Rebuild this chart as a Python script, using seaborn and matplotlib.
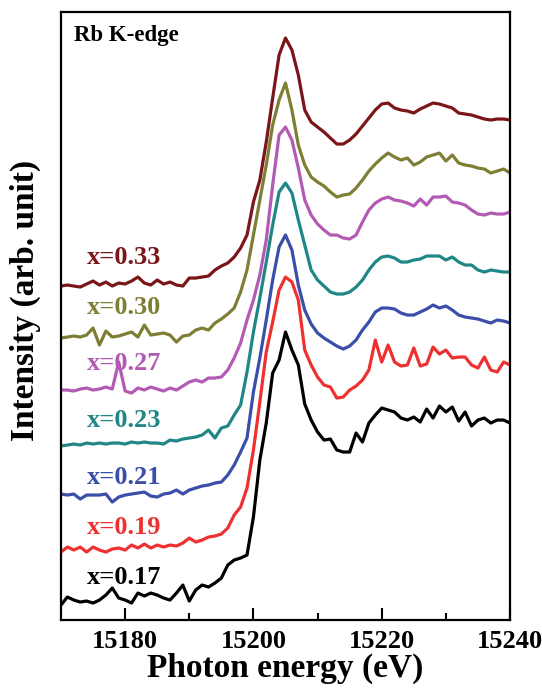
import numpy as np
import pandas as pd
import matplotlib
matplotlib.use("Agg")
import matplotlib.pyplot as plt
import seaborn as sns

# --- Data (stacked XANES spectra, arbitrary units) ---

energy = np.arange(15170, 15241)  # 1 eV grid

x017 = [15, 23, 20, 18, 19, 17, 20, 25, 32, 22,
        20, 17, 27, 24, 27, 25, 22, 20, 27, 35,
        19, 30, 35, 33, 37, 42, 55, 60, 62, 65,
        103, 160, 197, 247, 260, 288, 270, 255, 216, 200,
        188, 180, 181, 170, 168, 168, 187, 178, 197, 205,
        212, 210, 208, 202, 200, 203, 198, 211, 202, 214,
        208, 213, 199, 208, 194, 200, 202, 197, 200, 200,
        197]
x019 = [68, 73, 70, 73, 68, 73, 70, 68, 71, 72,
        70, 75, 72, 76, 72, 75, 73, 75, 74, 77,
        82, 78, 80, 83, 84, 86, 92, 105, 113, 132,
        170, 218, 268, 298, 330, 343, 338, 320, 270, 255,
        243, 235, 233, 222, 223, 230, 234, 240, 250, 280,
        258, 275, 258, 254, 255, 272, 254, 256, 273, 266,
        270, 262, 263, 263, 255, 252, 263, 250, 248, 258,
        255]
x021 = [126, 125, 126, 121, 125, 125, 125, 126, 118, 123,
        125, 126, 127, 128, 124, 123, 126, 127, 130, 126,
        130, 132, 134, 135, 137, 138, 145, 155, 168, 182,
        228, 262, 300, 340, 373, 385, 370, 335, 310, 296,
        287, 282, 278, 274, 271, 274, 280, 290, 298, 308,
        312, 312, 311, 307, 305, 305, 308, 311, 315, 312,
        314, 310, 305, 303, 302, 301, 299, 297, 300, 299,
        297]
x023 = [174, 175, 176, 175, 177, 176, 177, 176, 177, 177,
        176, 178, 177, 178, 177, 177, 176, 180, 179, 181,
        182, 183, 185, 190, 182, 192, 194, 205, 215, 248,
        288, 322, 358, 395, 428, 437, 427, 400, 375, 350,
        340, 334, 328, 326, 326, 328, 333, 340, 350, 358,
        363, 364, 362, 358, 358, 360, 361, 364, 364, 364,
        360, 363, 358, 355, 355, 350, 348, 350, 349, 348,
        348]
x027 = [230, 230, 229, 231, 232, 230, 231, 233, 231, 258,
        229, 227, 232, 230, 233, 231, 229, 232, 230, 234,
        238, 240, 238, 242, 242, 243, 250, 262, 277, 300,
        320, 345, 380, 435, 485, 493, 480, 452, 420, 405,
        396, 390, 385, 385, 382, 381, 385, 398, 410, 417,
        421, 423, 420, 419, 417, 414, 421, 415, 423, 423,
        424, 418, 417, 415, 410, 406, 405, 407, 406, 406,
        408]
x030 = [282, 283, 284, 283, 285, 292, 275, 289, 283, 284,
        286, 288, 283, 295, 285, 286, 287, 285, 278, 284,
        285, 290, 292, 290, 297, 301, 306, 312, 328, 350,
        385, 420, 455, 495, 520, 537, 510, 475, 455, 443,
        438, 434, 428, 423, 425, 426, 432, 440, 449, 456,
        462, 467, 463, 460, 462, 455, 458, 463, 465, 467,
        459, 465, 457, 455, 454, 452, 451, 447, 449, 451,
        447]
x033 = [334, 335, 334, 333, 336, 339, 335, 338, 334, 337,
        336, 339, 343, 337, 335, 340, 336, 338, 335, 334,
        342, 342, 343, 344, 350, 354, 357, 363, 372, 385,
        418, 440, 478, 522, 565, 582, 570, 545, 510, 498,
        493, 488, 482, 476, 476, 480, 486, 494, 502, 510,
        516, 517, 512, 510, 509, 507, 511, 514, 517, 516,
        514, 512, 507, 506, 505, 503, 501, 500, 501, 501,
        500]

samples = ["x=0.17", "x=0.19", "x=0.21", "x=0.23", "x=0.27", "x=0.30", "x=0.33"]
spectra = [x017, x019, x021, x023, x027, x030, x033]
colors = ["#000000", "#EE3130", "#3B4EA9", "#1F8786", "#B35BB4", "#7E7E34", "#7A1519"]
label_y = [43, 93, 143, 200, 257, 313, 363]

# --- Long-format table for seaborn ---

frames = []
for name, vals in zip(samples, spectra):
    frames.append(pd.DataFrame({"energy": energy, "intensity": vals, "sample": name}))
df = pd.concat(frames, ignore_index=True)

# --- Plot ---

sns.set_style("ticks", {"axes.edgecolor": "black", "xtick.color": "black",
                        "ytick.color": "black", "text.color": "black",
                        "axes.labelcolor": "black"})
plt.rcParams["font.family"] = ["Liberation Serif", "DejaVu Serif"]
plt.rcParams["font.weight"] = "bold"

fig = plt.figure(figsize=(5.42, 6.91), dpi=100)
ax = fig.add_axes([0.1125, 0.1027, 0.8285, 0.8799])

sns.lineplot(data=df, x="energy", y="intensity", hue="sample",
             palette=dict(zip(samples, colors)), estimator=None,
             linewidth=2.3, legend=False, ax=ax)

for name, col, yy in zip(samples, colors, label_y):
    ax.text(15174, yy, name, color=col, fontsize=19, fontweight="bold",
            ha="left", va="center")

ax.text(0.03, 0.978, "Rb K-edge", transform=ax.transAxes, fontsize=16.5,
        fontweight="bold", ha="left", va="top")

ax.set_xlim(15170, 15240)
ax.set_ylim(0, 608)
ax.set_xticks([15180, 15200, 15220, 15240])
ax.set_xticks([15190, 15210, 15230], minor=True)
ax.set_yticks([])
ax.tick_params(axis="x", which="major", direction="in", length=9, width=1.5,
               labelsize=19, pad=7)
ax.tick_params(axis="x", which="minor", direction="in", length=5, width=1.5)
for lab in ax.get_xticklabels():
    lab.set_fontweight("bold")
for sp in ax.spines.values():
    sp.set_linewidth(1.6)
    sp.set_color("black")

ax.set_xlabel("Photon energy (eV)", fontsize=24, fontweight="bold", labelpad=0)
ax.set_ylabel("Intensity (arb. unit)", fontsize=24, fontweight="bold")
ax.yaxis.set_label_coords(-0.045, 0.525)

fig.savefig("out.png", dpi=100)
